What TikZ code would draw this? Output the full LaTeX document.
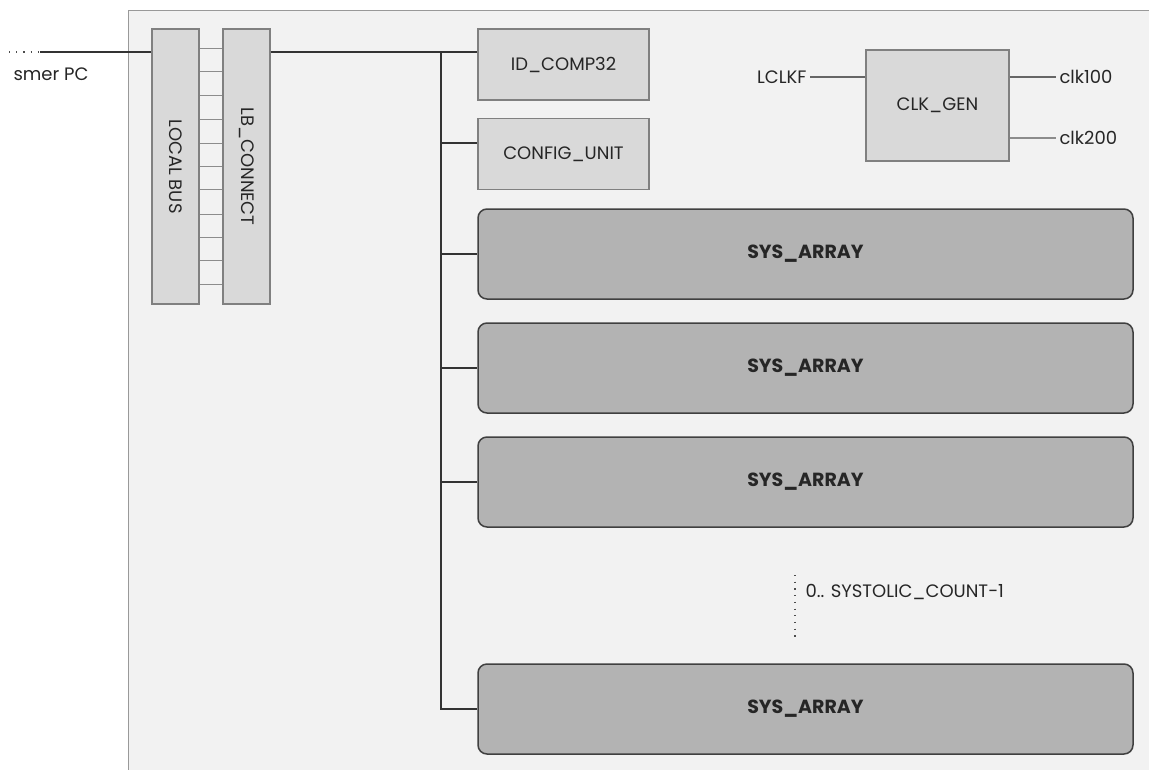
\documentclass[tikz,border=0pt]{standalone}
\usepackage{fontspec}
\setmainfont{Poppins}
\usetikzlibrary{calc}

\definecolor{bgfill}{HTML}{F2F2F2}
\definecolor{boxfill}{HTML}{D9D9D9}
\definecolor{arrfill}{HTML}{B3B3B3}

\begin{document}
\begin{tikzpicture}[
  x=1pt, y=-1pt,
  every node/.style={font=\fontsize{18}{20}\selectfont, text=black!85},
  unit/.style={draw=black!50, fill=boxfill, line width=1.2pt, inner sep=0pt,
               minimum width=171pt, minimum height=71pt},
  busbox/.style={unit, minimum width=47pt, minimum height=275pt},
  sysarr/.style={draw=black!75, fill=arrfill, rounded corners=9pt, line width=1.5pt,
                 minimum width=655pt, minimum height=90pt, inner sep=0pt,
                 font=\fontsize{19}{21}\selectfont\bfseries},
  wire/.style={draw=black!80, line width=1.3pt},
  lightwire/.style={draw=black!45, line width=1.3pt},
  dots/.style={draw=black!70, line width=1.2pt, dash pattern=on 1.2pt off 6pt},
]
\useasboundingbox (0,0) rectangle (1149,769);

% outer frame
\draw[draw=black!40, fill=bgfill, line width=1pt] (128,10) rectangle (1160,780);

% local bus and its connector
\node[busbox] (lbus) at (175.5,166.5) {};
\node[rotate=-90] at (lbus) {LOCAL BUS};
\node[busbox] (lbc) at (246.5,166.5) {};
\node[rotate=-90] at (lbc) {LB\_CONNECT};
\foreach \y in {20,43.5,67,91,115,138,161,186,209,232,256}
  \draw[lightwire, line width=1pt] ([yshift=-\y pt]lbus.north east) -- ([yshift=-\y pt]lbc.north west);

% input from PC
\coordinate (pcdots) at (9,52);
\coordinate (pcin) at (40,52);
\draw[dots] (pcdots) -- (pcin);
\draw[wire] (pcin) -- (pcin -| lbus.west);
\node[anchor=west] (smer) at (10,74) {smer PC};

% units on the bus
\node[unit] (idc) at (563.5,64.5) {ID\_COMP32};
\node[unit] (cfg) at (563.5,154) {CONFIG\_UNIT};
\node[sysarr] (sa1) at (805.5,254) {SYS\_ARRAY};
\node[sysarr] (sa2) at (805.5,368) {SYS\_ARRAY};
\node[sysarr] (sa3) at (805.5,482) {SYS\_ARRAY};
\node[sysarr] (sa4) at (805.5,709) {SYS\_ARRAY};

% bus lines
\coordinate (bus) at (441,52);
\draw[wire] (bus -| lbc.east) -- (bus -| idc.west);
\draw[wire] (bus) -- (bus |- sa4.west) -- (sa4.west);
\draw[wire] ([yshift=11pt]cfg.west -| bus) -- ([yshift=11pt]cfg.west);
\foreach \n in {sa1,sa2,sa3}
  \draw[wire] (\n.west -| bus) -- (\n.west);

% repeated arrays
\coordinate (dtop) at (795,575);
\coordinate (dbot) at (795,637);
\draw[dots, dash pattern=on 1.2pt off 5.5pt] (dtop) -- (dbot);
\node[anchor=west] (cnt) at (802,592) {0.. SYSTOLIC\_COUNT\textminus1};

% clock generator
\node[unit, minimum width=143pt, minimum height=111pt] (clk) at (937.5,105.5) {CLK\_GEN};
\node[anchor=east] (lclkf) at (810,77) {LCLKF};
\draw[draw=black!60, line width=1.2pt] (lclkf.east) -- (lclkf.east -| clk.west);
\node[anchor=west] (c100) at (1056,77) {clk100};
\draw[draw=black!60, line width=1.2pt] (c100.west -| clk.east) -- (c100.west);
\node[anchor=west] (c200) at (1056,138) {clk200};
\draw[lightwire, line width=1.2pt] (c200.west -| clk.east) -- (c200.west);
\end{tikzpicture}
\end{document}
